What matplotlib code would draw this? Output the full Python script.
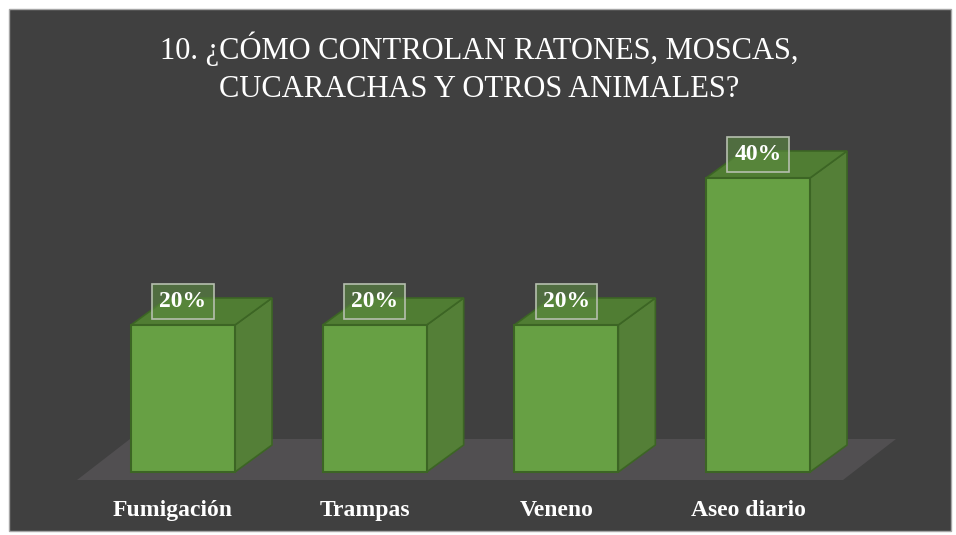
import matplotlib
matplotlib.use("Agg")
import matplotlib.pyplot as plt
from matplotlib.patches import Polygon, Rectangle

categories = ["Fumigación", "Trampas", "Veneno", "Aseo diario"]
values = [20, 20, 20, 40]
value_labels = ["20%", "20%", "20%", "40%"]
title = "10. ¿CÓMO CONTROLAN RATONES, MOSCAS,\nCUCARACHAS Y OTROS ANIMALES?"

W, H = 956, 535
fig = plt.figure(figsize=(W / 100, H / 100), dpi=100)
fig.patch.set_facecolor("white")

# dark panel
fig.patches.append(Rectangle((9 / W, 4 / H), 942 / W, 522 / H, transform=fig.transFigure,
                             facecolor="#404040", edgecolor="#a6a6a6", linewidth=1.0, zorder=-5))

ax = fig.add_axes([0, 0, 1, 1])
ax.set_zorder(2)
ax.set_facecolor("none")
ax.axis("off")

px_x = 191.67
px_y = 7.35
ax.set_xlim(-183 / px_x, (W - 183) / px_x)
ax.set_ylim(-63 / px_y, (H - 63) / px_y)

depth_dx = 37 / px_x
depth_dy = 27 / px_y
bw = 104 / px_x

front_c = "#67a044"
side_c = "#547f37"
top_c = "#507d33"
edge_c = "#3c6524"

# floor
fx0, fx1 = -106 / px_x, 660 / px_x
fy0 = -8 / px_y
fdx, fdy = 53 / px_x, 41 / px_y
ax.add_patch(Polygon([(fx0, fy0), (fx1, fy0), (fx1 + fdx, fy0 + fdy), (fx0 + fdx, fy0 + fdy)],
                     closed=True, facecolor="#514f51", edgecolor="none", zorder=1))

for i, v in enumerate(values):
    x0 = i - bw / 2
    x1 = i + bw / 2
    side = Polygon([(x1, 0), (x1 + depth_dx, depth_dy), (x1 + depth_dx, v + depth_dy), (x1, v)],
                   closed=True, facecolor=side_c, edgecolor=edge_c, linewidth=1.2, zorder=2)
    top = Polygon([(x0, v), (x1, v), (x1 + depth_dx, v + depth_dy), (x0 + depth_dx, v + depth_dy)],
                  closed=True, facecolor=top_c, edgecolor=edge_c, linewidth=1.2, zorder=2)
    ax.add_patch(side)
    ax.add_patch(top)

ax.bar(range(len(values)), values, width=bw, color=front_c, edgecolor=edge_c, linewidth=1.5, zorder=3)

for i, (v, lab) in enumerate(zip(values, value_labels)):
    ax.text(i, v + 3.2, lab, ha="center", va="center", fontsize=17, fontweight="bold",
            family="Liberation Serif", color="white", zorder=5,
            bbox=dict(boxstyle="square,pad=0.3", facecolor=(0.36, 0.55, 0.25, 0.6),
                      edgecolor="#b5bfae", linewidth=1.2))

for i, c in enumerate(categories):
    ax.text(i - 10 / px_x, (472 - 516) / px_y, c, ha="center", va="baseline", fontsize=17,
            fontweight="bold", family="Liberation Serif", color="white", zorder=5)

fig.text(479 / W, 1 - 68 / H, title, ha="center", va="center", fontsize=22,
         family="Liberation Serif", color="white", linespacing=1.4)

fig.savefig("out.png", dpi=100, facecolor=fig.get_facecolor())
